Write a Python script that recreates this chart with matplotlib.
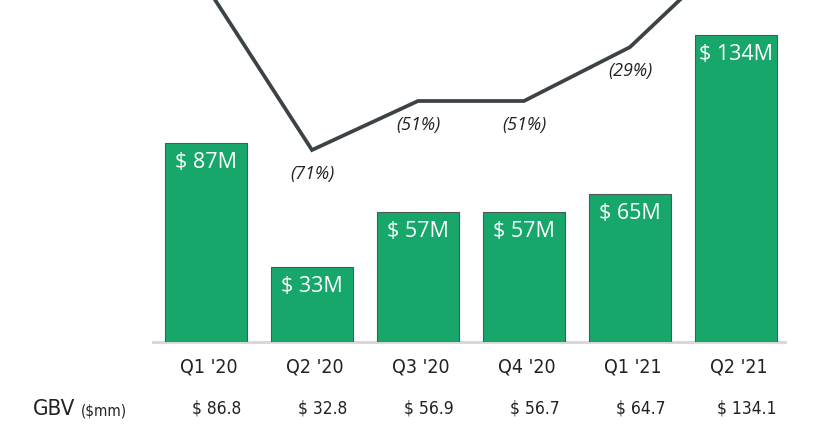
import matplotlib.pyplot as plt

quarters = ["Q1 '20", "Q2 '20", "Q3 '20", "Q4 '20", "Q1 '21", "Q2 '21"]
gbv = [86.8, 32.8, 56.9, 56.7, 64.7, 134.1]
bar_labels = ["$ 87M", "$ 33M", "$ 57M", "$ 57M", "$ 65M", "$ 134M"]
gbv_row = ["$ 86.8", "$ 32.8", "$ 56.9", "$ 56.7", "$ 64.7", "$ 134.1"]
# yoy change (first and last points run off the top of the chart)
change = [-4, -71, -51, -51, -29, 12]
change_labels = [None, "(71%)", "(51%)", "(51%)", "(29%)", None]

GREEN = "#17a76b"
LINE = "#3b4347"
TEXT = "#222222"

plt.rcParams["font.family"] = ["Open Sans", "DejaVu Sans"]
NARROW = dict(family="DejaVu Sans", stretch="condensed")

fig = plt.figure(figsize=(8.2, 4.3), dpi=100)
ax = fig.add_axes([0, 88 / 430, 1, 342 / 430])
x = list(range(len(quarters)))

ax.bar(x, gbv, width=0.774, color=GREEN, edgecolor="#4a5a55", linewidth=0.8, zorder=2)
ax.set_xlim(-206 / 106, 614 / 106)
ax.set_ylim(0, 342 / 2.29)
ax.axhline(0, xmin=153 / 820, xmax=785 / 820, color="#d6d6d6", lw=2, zorder=1, clip_on=False)

for xi, v, lab in zip(x, gbv, bar_labels):
    ax.annotate(lab, (xi, v), xytext=(0, -14), textcoords="offset points",
                ha="center", va="center", color="white", fontsize=15.5, zorder=4)

tr = ax.get_xaxis_transform()
for xi, q, g in zip(x, quarters, gbv_row):
    ax.text(xi + 0.03, -25 / 342, q, transform=tr, ha="center", va="center",
            fontsize=14, color=TEXT, clip_on=False, **NARROW)
    ax.text(xi + 0.1, -67 / 342, g, transform=tr, ha="center", va="center",
            fontsize=12.5, color=TEXT, clip_on=False, **NARROW)
fig.text(33 / 820, 15 / 430, "GBV", ha="left", va="baseline", fontsize=16, color=TEXT,
         **NARROW)
fig.text(81 / 820, 15 / 430, "($mm)", ha="left", va="baseline", fontsize=11, color=TEXT,
         **NARROW)
ax.axis("off")

ax2 = ax.twinx()
ax2.plot(x, change, color=LINE, lw=2.7, solid_joinstyle="miter", zorder=3)
ax2.set_ylim(-71 - 192 / 2.45, -71 + 150 / 2.45)
for xi, v, lab in zip(x, change, change_labels):
    if lab:
        ax2.annotate(lab, (xi, v), xytext=(0, -17), textcoords="offset points",
                     ha="center", va="center", fontsize=13, style="italic", color=TEXT)
ax2.axis("off")

fig.savefig("out.png", dpi=100, facecolor="white")
